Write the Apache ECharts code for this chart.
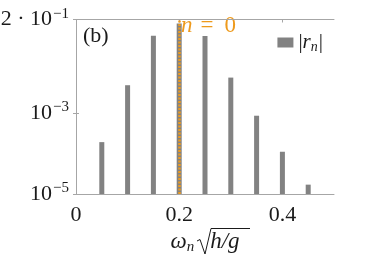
<!DOCTYPE html>
<html><head><meta charset="utf-8">
<script src="https://cdn.jsdelivr.net/npm/echarts@6/dist/echarts.min.js"></script>
<style>html,body{margin:0;padding:0;background:#fff}#c{width:368px;height:259px}</style>
</head><body><div id="c"></div>
<script>
// Data
var omega = [0.05, 0.10, 0.15, 0.20, 0.25, 0.30, 0.35, 0.40, 0.45];
var rn = [1.9e-4, 4.8e-3, 0.079, 0.16, 0.078, 7.4e-3, 8.5e-4, 1.1e-4, 1.7e-5];
var xTicks = [0, 0.2, 0.4];
var yTicks = [1e-5, 1e-3, 0.2];
var yTickLabels = ['{b|10}{s|−5}', '{b|10}{s|−3}', '{b|2 · 10}{s|−1}'];
var markN = 0.2;

var serif = '"Liberation Serif", "DejaVu Serif", serif';
var frame = '#a6a6a6';
var orange = '#ee9a1c';
var ink = '#1a1a1a';

var chart = echarts.init(document.getElementById('c'));
var data = omega.map(function (x, i) { return [x, rn[i]]; });

chart.setOption({
  animation: false,
  backgroundColor: '#fff',
  grid: { left: 76, right: 34, top: 19.5, bottom: 65, containLabel: false, outerBoundsMode: 'none' },
  title: { text: '(b)', left: 78, top: 20, textStyle: { fontFamily: serif, fontSize: 22, fontWeight: 'normal', color: ink } },
  legend: {
    right: 40, top: 27, icon: 'rect', itemWidth: 16, itemHeight: 10, itemGap: 3,
    data: ['rn'],
    formatter: function () { return '{p||}{r|r}{sub|n}{p||}'; },
    textStyle: {
      fontFamily: serif, color: ink,
      rich: {
        p: { fontSize: 21, fontFamily: serif, color: ink },
        r: { fontSize: 21, fontFamily: serif, fontStyle: 'italic', color: ink },
        sub: { fontSize: 14, fontFamily: serif, fontStyle: 'italic', color: ink, padding: [9, 1, 0, 0] }
      }
    }
  },
  xAxis: [{
    type: 'value', min: 0, max: 0.5, interval: 0.2,
    name: '{w|ω}{sub|n}{gap| }{o|h/g}', nameLocation: 'middle', nameGap: 33,
    nameTextStyle: {
      color: ink, fontFamily: serif, padding: [0, 0, 0, 0],
      rich: {
        w: { fontSize: 23, fontFamily: serif, fontStyle: 'italic', color: ink },
        sub: { fontSize: 15, fontFamily: serif, fontStyle: 'italic', color: ink, padding: [10, 0, 0, 0] },
        gap: { width: 16, fontSize: 22 },
        o: { fontSize: 23, fontFamily: serif, fontStyle: 'italic', color: ink }
      }
    },
    axisLine: { show: true, lineStyle: { color: frame, width: 1 } },
    axisTick: { show: true, inside: true, length: 3, lineStyle: { color: frame }, customValues: xTicks },
    axisLabel: { margin: 10, fontFamily: serif, fontSize: 22, color: ink, customValues: xTicks,
      formatter: function (v) { return v === 0 ? '0' : String(+v.toFixed(1)); } },
    splitLine: { show: false }
  }, {
    type: 'value', min: 0, max: 0.5, position: 'top',
    axisLine: { show: true, lineStyle: { color: frame, width: 1 } },
    axisTick: { show: true, inside: true, length: 3, lineStyle: { color: frame }, customValues: xTicks },
    axisLabel: { show: false }, splitLine: { show: false }
  }],
  yAxis: [{
    type: 'log', logBase: 10, min: 1e-5, max: 0.2, startValue: 1e-5,
    axisLine: { show: true, lineStyle: { color: frame, width: 1 } },
    axisTick: { show: true, inside: true, length: 3, lineStyle: { color: frame }, customValues: yTicks },
    axisLabel: {
      margin: 7, color: ink, fontFamily: serif, customValues: yTicks,
      formatter: function (v) {
        for (var i = 0; i < yTicks.length; i++) {
          if (Math.abs(Math.log10(v) - Math.log10(yTicks[i])) < 1e-6) return yTickLabels[i];
        }
        return '';
      },
      rich: {
        b: { fontSize: 22, fontFamily: serif, color: ink },
        s: { fontSize: 15, fontFamily: serif, color: ink, padding: [0, 0, 11, 1] }
      }
    },
    splitLine: { show: false }
  }, {
    type: 'log', logBase: 10, min: 1e-5, max: 0.2, position: 'right',
    axisLine: { show: true, lineStyle: { color: frame, width: 1 } },
    axisTick: { show: true, inside: true, length: 3, lineStyle: { color: frame }, customValues: yTicks },
    axisLabel: { show: false }, splitLine: { show: false }
  }],
  series: [{
    name: 'rn', type: 'bar', xAxisIndex: 0, yAxisIndex: 0,
    barWidth: 5, data: data,
    itemStyle: { color: '#828282' },
    markLine: {
      silent: true, symbol: 'none',
      lineStyle: { color: orange, width: 2.5, type: [2, 1.5] },
      label: { show: false },
      data: [{ xAxis: markN }]
    }
  }],
  graphic: [{
    type: 'text', left: 181, top: 14,
    style: { text: '{i|n}{q|=}{e|0}', fill: orange,
      rich: { i: { fontSize: 23, fontFamily: serif, fontStyle: 'italic', fill: orange, color: orange },
              q: { fontSize: 23, fontFamily: serif, fill: orange, color: orange, padding: [0, 11, 0, 8] },
              e: { fontSize: 23, fontFamily: serif, fill: orange, color: orange } } }
  }, {
    type: 'polyline', silent: true,
    shape: { points: [[197, 241], [200, 239.5], [205, 254], [211, 228.5], [250, 228.5]] },
    style: { stroke: ink, lineWidth: 1, fill: null }
  }]
});
</script></body></html>
